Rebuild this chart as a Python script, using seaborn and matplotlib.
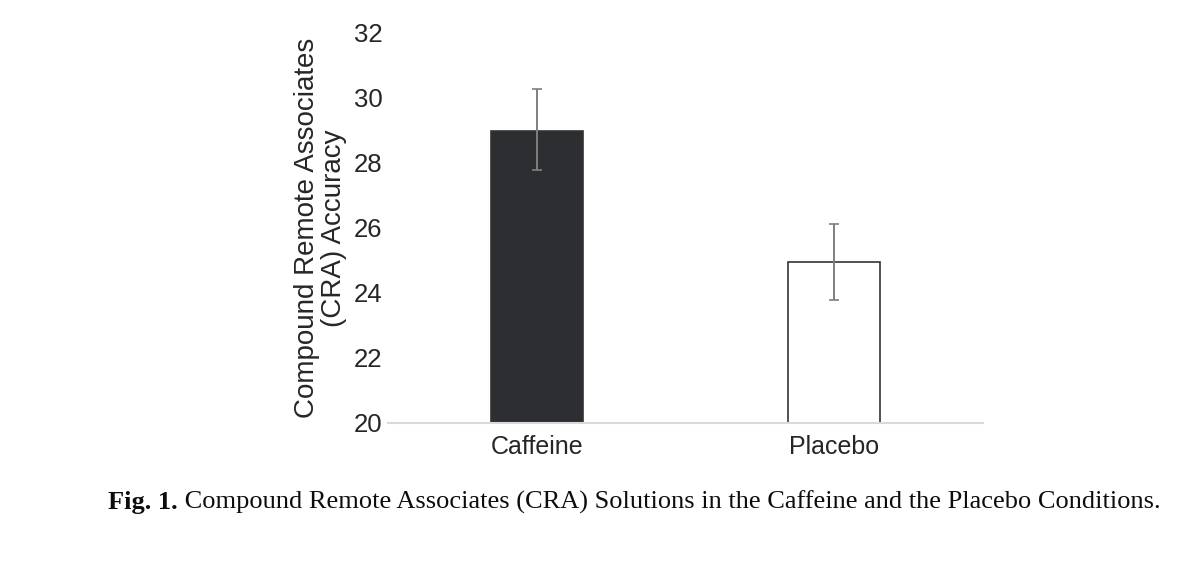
import matplotlib
matplotlib.use("Agg")
import matplotlib.pyplot as plt
import seaborn as sns
import pandas as pd

conditions = ["Caffeine", "Placebo"]
accuracy = [29.0, 24.95]
err_low = [27.77, 23.77]
err_high = [30.27, 26.13]
yticks = [20, 22, 24, 26, 28, 30, 32]
ylabel = "Compound Remote Associates\n(CRA) Accuracy"
caption_bold = "Fig. 1."
caption_rest = " Compound Remote Associates (CRA) Solutions in the Caffeine and the Placebo Conditions."

sns.set_theme(style="white")
plt.rcParams["font.family"] = ["Liberation Sans", "DejaVu Sans"]

df = pd.DataFrame({"condition": conditions, "accuracy": accuracy})

fig = plt.figure(figsize=(11.93, 5.70), dpi=100)
ax = fig.add_axes([388/1193, (570-423)/570, (983-388)/1193, (423-33)/570])

sns.barplot(data=df, x="condition", y="accuracy", hue="condition",
            palette=["#2b2d33", "#ffffff"], edgecolor="#333333", linewidth=1.2,
            width=0.31, errorbar=None, legend=False, ax=ax)
ax.set_ylim(20, 32)
ax.set_xlim(-0.5, 1.5)

lower = [a - l for a, l in zip(accuracy, err_low)]
upper = [h - a for a, h in zip(accuracy, err_high)]
ax.errorbar(range(len(conditions)), accuracy, yerr=[lower, upper], fmt="none",
            ecolor="#7f7f7f", elinewidth=1.4, capsize=3.5, capthick=1.2, zorder=5)

ax.set_yticks(yticks)
ax.set_yticklabels([str(t) for t in yticks])
ax.tick_params(axis="y", length=0, pad=4, labelsize=18.5, labelcolor="#262626")
ax.tick_params(axis="x", length=0, pad=9, labelsize=18, labelcolor="#262626")
ax.set_xlabel("")
ax.set_ylabel(ylabel, fontsize=20, color="#262626", labelpad=5, linespacing=1.05)

for s in ["left", "right", "top"]:
    ax.spines[s].set_visible(False)
ax.spines["bottom"].set_color("#d9d9d9")
ax.spines["bottom"].set_linewidth(1.5)
ax.grid(False)

# caption
fig.canvas.draw()
r = fig.canvas.get_renderer()
cap_y = 1 - 502/570
t1 = fig.text(108/1193, cap_y, caption_bold, fontsize=19, fontweight="bold",
              family=["Liberation Serif", "DejaVu Serif"], va="center", ha="left", color="#0d0d0d")
bb = t1.get_window_extent(renderer=r)
fig.text(bb.x1/1193, cap_y, caption_rest, fontsize=19,
         family=["Liberation Serif", "DejaVu Serif"], va="center", ha="left", color="#0d0d0d")

fig.savefig("out.png", dpi=100)
